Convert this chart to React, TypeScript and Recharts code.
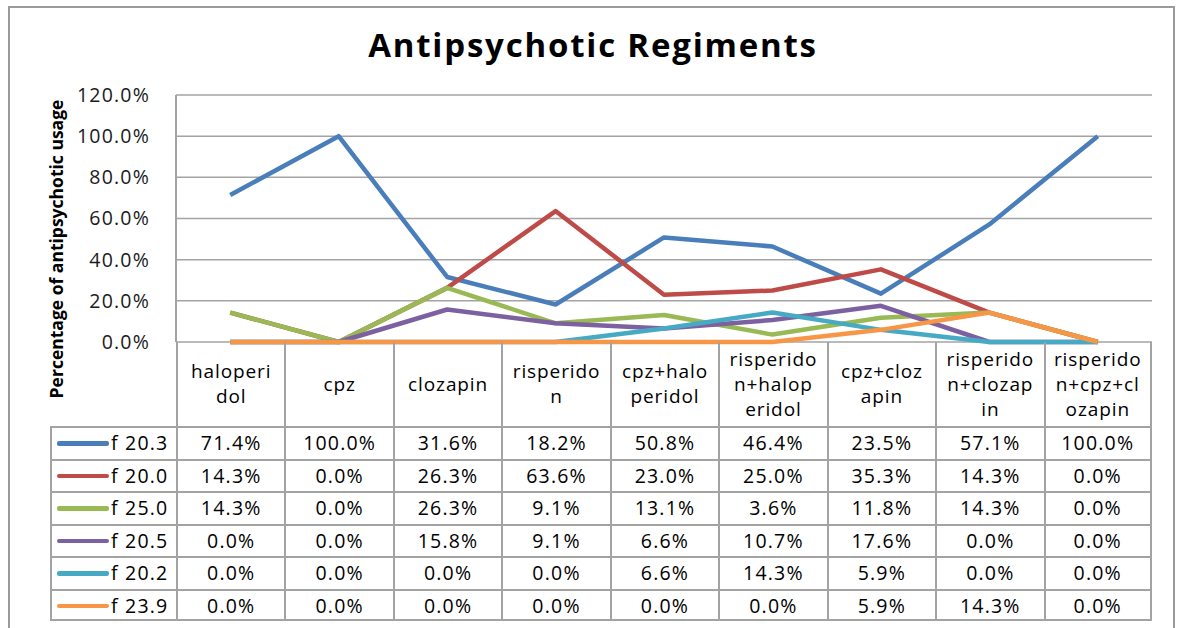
import { ComposedChart, Line, XAxis, YAxis, CartesianGrid } from 'recharts'

const categories = ['haloperidol', 'cpz', 'clozapin', 'risperidon', 'cpz+haloperidol',
    'risperidon+haloperidol', 'cpz+clozapin', 'risperidon+clozapin', 'risperidon+cpz+clozapin']

// category labels as they wrap in the table header
const headerLabels = [['haloperi', 'dol'], ['cpz'], ['clozapin'], ['risperido', 'n'],
    ['cpz+halo', 'peridol'], ['risperido', 'n+halop', 'eridol'], ['cpz+cloz', 'apin'],
    ['risperido', 'n+clozap', 'in'], ['risperido', 'n+cpz+cl', 'ozapin']]

const seriesNames = ['f 20.3', 'f 20.0', 'f 25.0', 'f 20.5', 'f 20.2', 'f 23.9']
const f203 = [71.4, 100.0, 31.6, 18.2, 50.8, 46.4, 23.5, 57.1, 100.0]
const f200 = [14.3, 0.0, 26.3, 63.6, 23.0, 25.0, 35.3, 14.3, 0.0]
const f250 = [14.3, 0.0, 26.3, 9.1, 13.1, 3.6, 11.8, 14.3, 0.0]
const f205 = [0.0, 0.0, 15.8, 9.1, 6.6, 10.7, 17.6, 0.0, 0.0]
const f202 = [0.0, 0.0, 0.0, 0.0, 6.6, 14.3, 5.9, 0.0, 0.0]
const f239 = [0.0, 0.0, 0.0, 0.0, 0.0, 0.0, 5.9, 14.3, 0.0]
const seriesValues = [f203, f200, f250, f205, f202, f239]
const yTicks = [0, 20, 40, 60, 80, 100, 120]

const palette = ['#4a7ebb', '#be4b48', '#98b954', '#7d60a0', '#46aac5', '#f79646']

const data = categories.map((name, i) => {
    const row: any = { name }
    seriesNames.forEach((s, j) => { row[s] = seriesValues[j][i] })
    return row
})

const W = 1178
const H = 628
const PLOT_LEFT = 176
const PLOT_RIGHT = 1152
const PLOT_TOP = 95
const PLOT_BOTTOM = 342
const COL_W = (PLOT_RIGHT - PLOT_LEFT) / categories.length
const HEADER_H = 84
const ROW_H = 32.5
const KEY_LEFT = 50
const BORDER = '#a3a3a3'
const FONT = '"Open Sans", sans-serif'

function DataTable() {
    const cells: any[] = []
    headerLabels.forEach((lines, i) => {
        cells.push(
            <div key={`h-${i}`} style={{
                position: 'absolute', left: PLOT_LEFT + i * COL_W, top: PLOT_BOTTOM,
                width: COL_W, height: HEADER_H, boxSizing: 'border-box',
                borderLeft: `2px solid ${BORDER}`, borderRight: i == categories.length - 1 ? `2px solid ${BORDER}` : 'none',
                display: 'flex', flexDirection: 'column', justifyContent: 'center', alignItems: 'center',
                lineHeight: '25px', fontSize: 19, letterSpacing: 0.9
            }}>
                {lines.map((l, k) => <div key={k}>{l}</div>)}
            </div>
        )
    })
    seriesNames.forEach((s, r) => {
        const top = PLOT_BOTTOM + HEADER_H + r * ROW_H
        cells.push(
            <div key={`k-${r}`} style={{
                position: 'absolute', left: KEY_LEFT, top, width: PLOT_LEFT - KEY_LEFT, height: ROW_H,
                boxSizing: 'border-box', border: `2px solid ${BORDER}`, borderRight: 'none',
                borderBottom: r == seriesNames.length - 1 ? `2px solid ${BORDER}` : 'none'
            }}>
                <div style={{ position: 'absolute', left: 5, top: 13, width: 52, height: 4.5,
                    borderRadius: 2, background: palette[r] }} />
                <div style={{ position: 'absolute', left: 59, top: 0, lineHeight: '29px',
                    fontSize: 19.5, letterSpacing: 1.2 }}>{s}</div>
            </div>
        )
        seriesValues[r].forEach((v, i) => {
            cells.push(
                <div key={`c-${r}-${i}`} style={{
                    position: 'absolute', left: PLOT_LEFT + i * COL_W, top, width: COL_W, height: ROW_H,
                    boxSizing: 'border-box', borderTop: `2px solid ${BORDER}`, borderLeft: `2px solid ${BORDER}`,
                    borderRight: i == categories.length - 1 ? `2px solid ${BORDER}` : 'none',
                    borderBottom: r == seriesNames.length - 1 ? `2px solid ${BORDER}` : 'none',
                    textAlign: 'center', lineHeight: '29px', fontSize: 19.5, letterSpacing: 1.2
                }}>{v.toFixed(1)}%</div>
            )
        })
    })
    return <>{cells}</>
}

export default function App() {
    return (
        <div style={{ position: 'absolute', left: 0, top: 0, width: W, height: H,
            overflow: 'hidden', background: '#fff', fontFamily: FONT, color: '#000' }}>
            <div style={{ position: 'absolute', left: 8, top: 6, width: 1167, height: 700,
                boxSizing: 'border-box', border: '2px solid #9a9a9a' }} />
            <div style={{ position: 'absolute', left: 0, width: W, top: 21, textAlign: 'center',
                paddingLeft: 8, boxSizing: 'border-box',
                fontSize: 33, fontWeight: 700, letterSpacing: 1.8, lineHeight: '48px' }}>Antipsychotic Regiments</div>
            <div style={{ position: 'absolute', left: 56, top: 249, width: 0, height: 0 }}>
                <div style={{ position: 'absolute', transform: 'translate(-50%, -50%) rotate(-90deg)',
                    whiteSpace: 'nowrap', fontSize: 17.5, fontWeight: 700 }}>
                    Percentage of antipsychotic usage
                </div>
            </div>
            <div style={{ position: 'absolute', left: 0, top: 0 }}>
                <ComposedChart width={W} height={H} data={data}
                    margin={{ top: PLOT_TOP, right: W - PLOT_RIGHT, bottom: H - PLOT_BOTTOM, left: 8 }}>
                    <CartesianGrid vertical={false} stroke={BORDER} strokeWidth={1.5} />
                    <XAxis dataKey="name" hide padding={{ left: COL_W / 2, right: COL_W / 2 }} />
                    <YAxis width={PLOT_LEFT - 8} domain={[0, 120]} ticks={yTicks}
                        tickFormatter={(v: number) => `${v.toFixed(1)}%`}
                        tickLine={false} tickSize={0} tickMargin={26}
                        axisLine={{ stroke: BORDER, strokeWidth: 2 }}
                        tick={{ fill: '#1a1a1a', fontSize: 19.5, fontFamily: FONT, letterSpacing: 1.2 }} />
                    {seriesNames.map((s, i) => (
                        <Line key={s} dataKey={s} type="linear" stroke={palette[i]} strokeWidth={4.5}
                            strokeLinejoin="round" dot={false} activeDot={false} isAnimationActive={false} />
                    ))}
                </ComposedChart>
            </div>
            <DataTable />
        </div>
    )
}
